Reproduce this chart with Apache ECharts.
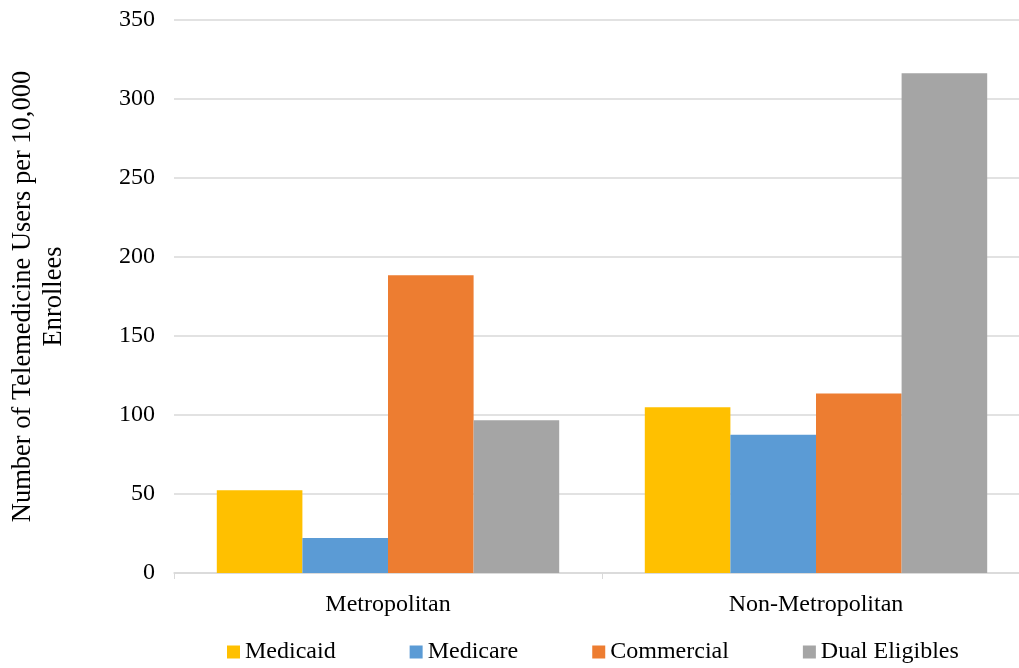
<!DOCTYPE html>
<html>
<head>
<meta charset="utf-8">
<script src="https://cdn.jsdelivr.net/npm/echarts@6/dist/echarts.min.js"></script>
<style>
  html, body { margin: 0; padding: 0; background: #fff; overflow: hidden; }
  #chart { width: 1030px; height: 668px; }
</style>
</head>
<body>
<div id="chart"></div>
<script>
var categories = ['Metropolitan', 'Non-Metropolitan'];
var seriesNames = ['Medicaid', 'Medicare', 'Commercial', 'Dual Eligibles'];
var medicaid = [52.3, 104.9];
var medicare = [22.2, 87.5];
var commercial = [188.4, 113.6];
var dualEligibles = [96.6, 316.3];
var colors = ['#FFC000', '#5B9BD5', '#ED7D31', '#A5A5A5'];

var font = 'Liberation Serif';
var values = [medicaid, medicare, commercial, dualEligibles];

// the plot area runs a little past the right edge of the window, as in the original
var myChart = echarts.init(document.getElementById('chart'));
var option = {
    animation: false,
    textStyle: { fontFamily: font },
    grid: { left: 174, top: 20, bottom: 95, right: 0 },
    legend: {
        left: 227,
        bottom: 4,
        padding: 0,
        itemWidth: 13,
        itemHeight: 13,
        itemGap: 74,
        icon: 'rect',
        textStyle: { fontFamily: font, fontSize: 24, color: '#000' },
        data: seriesNames
    },
    xAxis: {
        type: 'category',
        data: categories,
        axisLine: { lineStyle: { color: '#d9d9d9', width: 1.5 } },
        axisTick: { show: true, length: 6, lineStyle: { color: '#d9d9d9' } },
        axisLabel: { fontFamily: font, fontSize: 24, color: '#000', margin: 20 }
    },
    yAxis: {
        type: 'value',
        min: 0,
        max: 350,
        interval: 50,
        name: 'Number of Telemedicine Users per 10,000\nEnrollees',
        nameLocation: 'middle',
        nameRotate: 90,
        nameGap: 104,
        nameTextStyle: { fontFamily: font, fontSize: 26.5, color: '#000', lineHeight: 31, align: 'center' },
        axisLine: { show: false },
        axisTick: { show: false },
        axisLabel: { fontFamily: font, fontSize: 24, color: '#000', margin: 19 },
        splitLine: { lineStyle: { color: '#d9d9d9', width: 1.5 } }
    },
    series: seriesNames.map(function (name, i) {
        return {
            name: name,
            type: 'bar',
            barGap: '0%',
            barCategoryGap: '20%',
            itemStyle: { color: colors[i] },
            data: values[i]
        };
    })
};
myChart.setOption(option);
</script>
</body>
</html>
